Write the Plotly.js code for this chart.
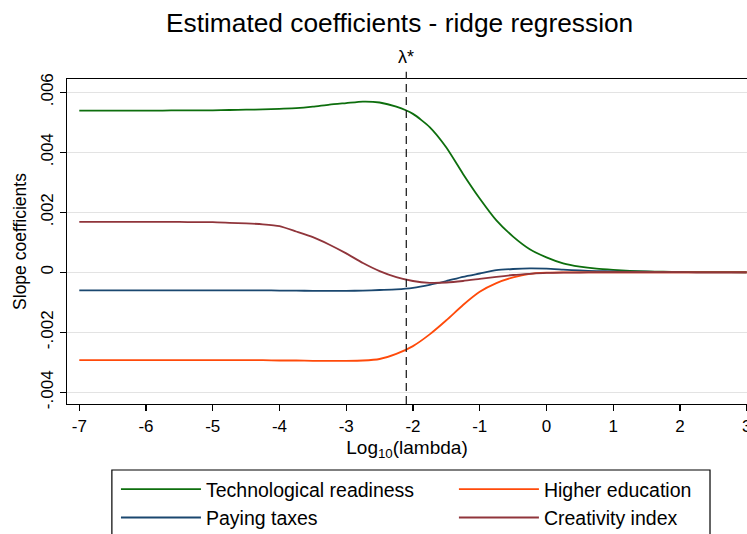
<!DOCTYPE html>
<html>
<head>
<meta charset="utf-8">
<script src="https://cdn.plot.ly/plotly-3.0.1.min.js"></script>
<style>html,body{margin:0;padding:0;background:#fff;}#chart{width:747px;height:534px;}</style>
</head>
<body>
<div id="chart"></div>
<script>
var logLambda = [-7,-6.75,-6.5,-6.25,-6,-5.75,-5.5,-5.25,-5,-4.75,-4.5,-4.25,-4,-3.75,-3.5,-3.25,-3,-2.75,-2.5,-2.25,-2,-1.75,-1.5,-1.25,-1,-0.75,-0.5,-0.25,0,0.25,0.5,0.75,1,1.25,1.5,1.75,2,2.25,2.5,2.75,3];

var techReadiness = [0.00539,0.00539,0.00539,0.00539,0.00539,0.00539,0.00540,0.00540,0.00540,0.00541,0.00542,0.00543,0.00545,0.00547,0.00552,0.00559,0.00564,0.00569,0.00566,0.00552,0.00528,0.00484,0.00416,0.00328,0.00246,0.00173,0.00119,0.00077,0.00050,0.00030,0.00019,0.00012,0.00008,0.00005,0.00003,0.00002,0.00001,0.000007,0.000005,0.000003,0.000002];

var higherEducation = [-0.00293,-0.00293,-0.00293,-0.00293,-0.00293,-0.00293,-0.00293,-0.00293,-0.00293,-0.00293,-0.00293,-0.00293,-0.00294,-0.00294,-0.00295,-0.00295,-0.00295,-0.00294,-0.00289,-0.00272,-0.00246,-0.00207,-0.00160,-0.00109,-0.00065,-0.00036,-0.00017,-0.00005,-0.00001,0,0,0,0,0,0,0,0,0,0,0,0];

var payingTaxes = [-0.00060,-0.00060,-0.00060,-0.00060,-0.00060,-0.00060,-0.00060,-0.00060,-0.00060,-0.00060,-0.00060,-0.00060,-0.00061,-0.00061,-0.00062,-0.00062,-0.00062,-0.00061,-0.00059,-0.00057,-0.00052,-0.00042,-0.00029,-0.00015,-0.00004,0.00007,0.00011,0.00013,0.00012,0.00009,0.00006,0.00004,0.00003,0.00002,0.00002,0.00001,0.00001,0,0,0,0];

var creativityIndex = [0.00168,0.00168,0.00168,0.00168,0.00168,0.00168,0.00168,0.00167,0.00167,0.00165,0.00163,0.00160,0.00154,0.00136,0.00117,0.00092,0.00063,0.00031,0.00004,-0.00016,-0.00029,-0.00035,-0.00034,-0.00029,-0.00022,-0.00015,-0.00009,-0.00005,-0.00002,-0.00001,-0.00001,0,0,0,0,0,0,0,0,0,0];

var yTickVals = [-0.004,-0.002,0,0.002,0.004,0.006];
var yTickText = ['-.004','-.002','0','.002','.004','.006'];
var xTickVals = [-7,-6,-5,-4,-3,-2,-1,0,1,2,3];
var lambdaStar = -2.1;

var FONT = 'Liberation Sans, Arial, Helvetica, sans-serif';

function tr(name, y, color, legendId) {
  return {x: logLambda, y: y, name: name, type: 'scatter', mode: 'lines', legend: legendId,
          line: {color: color, width: 1.8, shape: 'spline', smoothing: 0.6}};
}

var data = [
  tr('Technological readiness', techReadiness, '#0d6e0d', 'legend'),
  tr('Paying taxes', payingTaxes, '#1a476f', 'legend'),
  tr('Higher education', higherEducation, '#ff4a0a', 'legend2'),
  tr('Creativity index', creativityIndex, '#90353b', 'legend2')
];

var legendBase = {orientation: 'v', xanchor: 'left', yanchor: 'top', y: -0.203,
                  borderwidth: 0, bgcolor: 'rgba(0,0,0,0)', font: {size: 19.5},
                  itemwidth: 80, traceorder: 'normal'};

var layout = {
  width: 747, height: 534,
  margin: {l: 67, r: 0, t: 79, b: 130, autoexpand: false},
  paper_bgcolor: '#fff', plot_bgcolor: '#fff',
  font: {family: FONT, color: '#000', size: 17},
  title: {text: 'Estimated coefficients - ridge regression', font: {size: 26.3, color: '#000'},
          x: 0.535, xanchor: 'center', y: 0.958, yanchor: 'middle'},
  xaxis: {range: [-7.184, 3.005], tickvals: xTickVals, ticktext: xTickVals.map(String),
          showgrid: false, zeroline: false, showline: true, linecolor: '#000', linewidth: 1.3,
          mirror: true, ticks: 'outside', ticklen: 6, tickcolor: '#000', tickwidth: 1.2,
          tickfont: {size: 17}, ticklabeloverflow: 'allow',
          title: {text: 'Log<sub>10</sub>(lambda)', font: {size: 19}, standoff: 6}},
  yaxis: {range: [-0.00439, 0.006443], tickvals: yTickVals, ticktext: yTickText,
          tickangle: -90, showgrid: true, gridcolor: '#e3e3e3', gridwidth: 1,
          zeroline: false, showline: true, linecolor: '#000', linewidth: 1.3, mirror: false,
          ticks: 'outside', ticklen: 6, tickcolor: '#000', tickwidth: 1.2,
          tickfont: {size: 17},
          title: {text: 'Slope coefficients', font: {size: 17.5}, standoff: 6}},
  showlegend: true,
  legend: Object.assign({}, legendBase, {x: 0.072}),
  legend2: Object.assign({}, legendBase, {x: 0.569}),
  shapes: [
    {type: 'line', xref: 'x', yref: 'paper', x0: lambdaStar, x1: lambdaStar, y0: 0, y1: 1.022,
     line: {color: '#222', width: 1.3, dash: '8px,5px'}},
    {type: 'rect', xref: 'paper', yref: 'paper', x0: 0.066, x1: 0.9456, y0: -0.203, y1: -0.5,
     line: {color: '#000', width: 1.2}, fillcolor: 'rgba(0,0,0,0)'}
  ],
  annotations: [{text: 'λ*', xref: 'x', yref: 'paper', x: lambdaStar, y: 1.068,
                 xanchor: 'center', yanchor: 'middle', showarrow: false, font: {size: 18}}]
};

Plotly.newPlot('chart', data, layout, {displayModeBar: false, staticPlot: true});
</script>
</body>
</html>
